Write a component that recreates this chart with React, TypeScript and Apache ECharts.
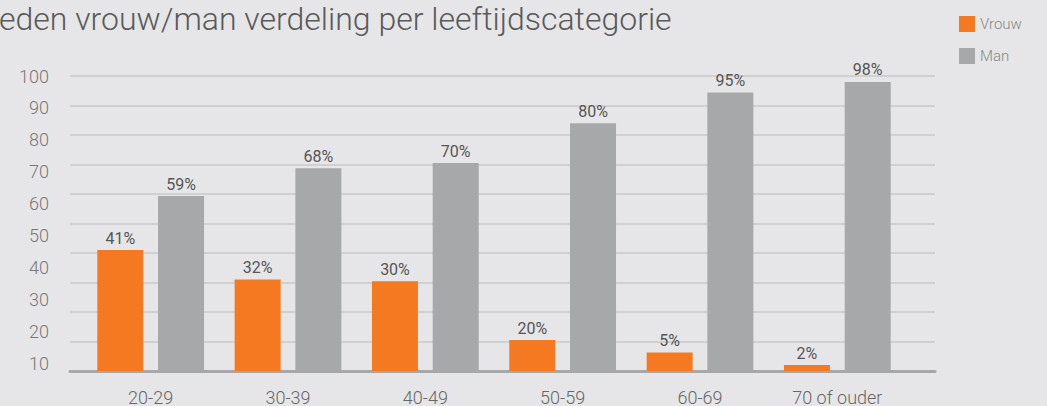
import React, { useEffect, useRef } from "react";
import * as echarts from "echarts";

const titleText = "Leden vrouw/man verdeling per leeftijdscategorie";
const categories = ["20-29", "30-39", "40-49", "50-59", "60-69", "70 of ouder"];
// bar heights as drawn in the picture (on the 0-100 grid)
const vrouw = [41, 31, 30.4, 10.5, 6.3, 2];
const man = [59.3, 68.7, 70.5, 84, 94.4, 98];
// value labels as printed above the bars
const vrouwLabels = ["41%", "32%", "30%", "20%", "5%", "2%"];
const manLabels = ["59%", "68%", "70%", "80%", "95%", "98%"];
const yTickLabels = [10, 20, 30, 40, 50, 60, 70, 80, 90, 100];

const FONT = "Roboto";

export default function App() {
  const ref = useRef<HTMLDivElement>(null);
  useEffect(() => {
    document.body.style.margin = "0";
    const chart = echarts.init(ref.current!, undefined, { renderer: "svg" });
    const barLabel = (labels: string[]) => ({
      show: true,
      position: "top",
      distance: 4,
      formatter: (p: any) => labels[p.dataIndex],
      color: "#555",
      fontSize: 16,
      fontFamily: FONT,
    });
    chart.setOption({
      animation: false,
      backgroundColor: "#e6e6e8",
      textStyle: { fontFamily: FONT },
      title: {
        text: titleText,
        left: -18,
        top: 3,
        padding: 0,
        textStyle: { fontSize: 32, fontWeight: 300, color: "#5a5a5a", fontFamily: FONT },
      },
      legend: {
        orient: "vertical",
        left: 954,
        top: 11,
        itemWidth: 16,
        itemHeight: 16,
        itemGap: 16,
        icon: "rect",
        textStyle: { color: "#888", fontSize: 15, fontFamily: FONT, fontWeight: 300 },
        data: ["Vrouw", "Man"],
      },
      grid: [
        { left: 70, top: 76, width: 865, height: 295 },
        { left: 82, top: 76, width: 824, height: 295 },
      ],
      xAxis: [
        {
          gridIndex: 0,
          type: "value",
          min: 0,
          max: 1,
          axisLine: { show: true, lineStyle: { color: "#a6a7a9", width: 3 } },
          axisTick: { show: false },
          axisLabel: { show: false },
          splitLine: { show: false },
        },
        {
          gridIndex: 1,
          type: "category",
          data: categories,
          axisLine: { show: false },
          axisTick: { show: false },
          axisLabel: { color: "#666", fontSize: 18, fontWeight: 300, margin: 17, fontFamily: FONT },
        },
      ],
      yAxis: [
        {
          gridIndex: 0,
          type: "value",
          position: "left",
          min: 0,
          max: 100,
          interval: 10,
          axisLine: { show: false },
          axisTick: { show: false },
          axisLabel: { show: false },
          splitLine: { show: true, lineStyle: { color: "#c8c8ca", width: 1.5 } },
        },
        {
          gridIndex: 0,
          type: "value",
          position: "left",
          min: 7.8,
          max: 100,
          axisLine: { show: false },
          axisTick: { show: false },
          splitLine: { show: false },
          axisLabel: {
            customValues: yTickLabels,
            color: "#777",
            fontSize: 18,
            fontWeight: 300,
            margin: 21,
            fontFamily: FONT,
          },
        },
        {
          gridIndex: 1,
          type: "value",
          min: 0,
          max: 100,
          show: false,
        },
      ],
      series: [
        {
          name: "Vrouw",
          type: "bar",
          xAxisIndex: 1,
          yAxisIndex: 2,
          data: vrouw,
          barWidth: 46,
          barGap: "32%",
          itemStyle: { color: "#f47920" },
          label: barLabel(vrouwLabels),
        },
        {
          name: "Man",
          type: "bar",
          xAxisIndex: 1,
          yAxisIndex: 2,
          data: man,
          barWidth: 46,
          itemStyle: { color: "#a7a8aa" },
          label: barLabel(manLabels),
        },
      ],
    });
    return () => chart.dispose();
  }, []);
  return (
    <div
      ref={ref}
      style={{ position: "absolute", left: 0, top: 0, width: 1047, height: 406 }}
    />
  );
}
